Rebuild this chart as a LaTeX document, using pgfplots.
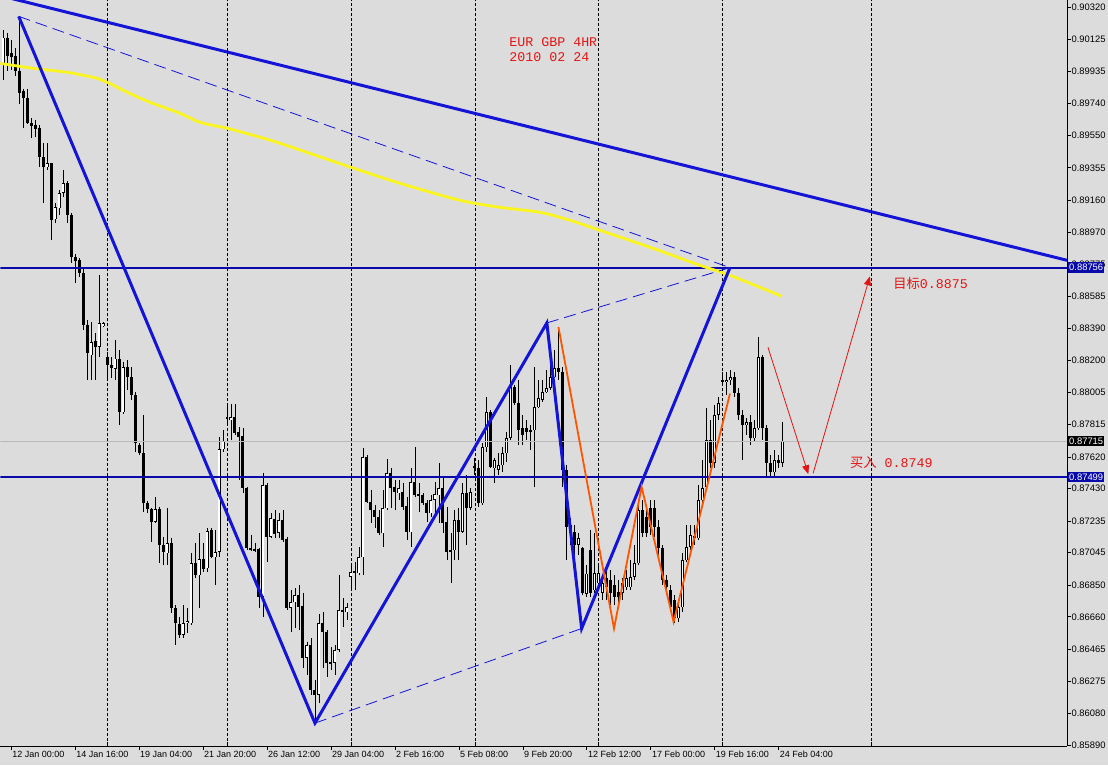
\documentclass[border=0pt]{standalone}
\usepackage{fontspec}
\setmainfont{Liberation Sans}
\newfontfamily\monof{Liberation Mono}
\newfontfamily\cjk{Noto Sans CJK SC}
\usepackage{pgfplots}
\usepackage{pgfplotstable}
\pgfplotsset{compat=1.18}
\usetikzlibrary{arrows.meta}
\definecolor{bg}{RGB}{220,220,220}
\definecolor{zig}{RGB}{20,20,215}
\definecolor{hline}{RGB}{10,10,170}
\definecolor{maY}{RGB}{250,245,30}
\definecolor{org}{RGB}{255,85,0}
\definecolor{ann}{RGB}{228,20,20}

\pgfplotstableread{
k o h l c
0 0.89982 0.90180 0.89880 0.90138
1 0.90138 0.90168 0.89940 0.90030
2 0.90042 0.90120 0.89940 0.90018
3 0.90030 0.90078 0.89910 0.89940
4 0.89940 0.90264 0.89742 0.89808
5 0.89820 0.89832 0.89598 0.89778
6 0.89778 0.89832 0.89622 0.89628
7 0.89628 0.89658 0.89538 0.89610
8 0.89616 0.89640 0.89538 0.89592
9 0.89592 0.89610 0.89358 0.89418
10 0.89418 0.89502 0.89142 0.89358
11 0.89358 0.89508 0.89340 0.89382
12 0.89382 0.89382 0.88920 0.89040
13 0.89046 0.89142 0.89022 0.89118
14 0.89112 0.89220 0.89070 0.89202
15 0.89202 0.89340 0.89178 0.89262
16 0.89262 0.89274 0.89022 0.89070
17 0.89070 0.89082 0.88782 0.88818
18 0.88824 0.88836 0.88662 0.88800
19 0.88800 0.88812 0.88698 0.88722
20 0.88722 0.88758 0.88380 0.88410
21 0.88410 0.88440 0.88080 0.88242
22 0.88230 0.88428 0.88080 0.88308
23 0.88314 0.88362 0.88080 0.88278
24 0.88278 0.88710 0.88218 0.88422
25 0.88404 0.88428 0.88398 0.88422
26 0.88218 0.88248 0.88092 0.88170
27 0.88170 0.88218 0.88092 0.88152
28 0.88152 0.88320 0.88080 0.88212
29 0.88206 0.88260 0.87810 0.87888
30 0.87888 0.88188 0.87876 0.88158
31 0.88158 0.88200 0.88020 0.88098
32 0.88098 0.88158 0.87960 0.87990
33 0.87990 0.88008 0.87648 0.87702
34 0.87690 0.87702 0.87630 0.87642
35 0.87642 0.87870 0.87288 0.87342
36 0.87342 0.87354 0.87282 0.87306
37 0.87306 0.87312 0.87108 0.87228
38 0.87228 0.87378 0.87222 0.87306
39 0.87306 0.87318 0.86982 0.87090
40 0.87090 0.87138 0.86970 0.87048
41 0.87042 0.87312 0.86970 0.87102
42 0.87102 0.87132 0.86682 0.86712
43 0.86712 0.86730 0.86490 0.86622
44 0.86616 0.86658 0.86532 0.86550
45 0.86550 0.86730 0.86532 0.86622
46 0.86622 0.86712 0.86562 0.86634
47 0.86622 0.87042 0.86610 0.86982
48 0.86982 0.87102 0.86892 0.86910
49 0.86910 0.87162 0.86712 0.87006
50 0.87006 0.87102 0.86928 0.86946
51 0.86952 0.87192 0.86928 0.87174
52 0.87180 0.87192 0.87012 0.87018
53 0.87018 0.87180 0.86850 0.87048
54 0.87048 0.87738 0.87018 0.87666
55 0.87666 0.87780 0.87648 0.87714
56 0.87858 0.87930 0.87822 0.87846
57 0.87840 0.87936 0.87720 0.87858
58 0.87858 0.87936 0.87750 0.87762
59 0.87768 0.87798 0.87480 0.87738
60 0.87744 0.87792 0.87402 0.87432
61 0.87432 0.87438 0.87060 0.87072
62 0.87072 0.87150 0.87054 0.87060
63 0.87066 0.87102 0.87048 0.87054
64 0.87066 0.87072 0.86712 0.86778
65 0.86778 0.87522 0.86658 0.87450
66 0.87450 0.87462 0.86988 0.87138
67 0.87138 0.87282 0.87132 0.87252
68 0.87246 0.87300 0.87132 0.87156
69 0.87162 0.87282 0.87132 0.87240
70 0.87240 0.87300 0.87108 0.87120
71 0.87126 0.87138 0.86700 0.86712
72 0.86712 0.86820 0.86568 0.86748
73 0.86748 0.86832 0.86592 0.86790
74 0.86790 0.86850 0.86580 0.86718
75 0.86724 0.86802 0.86352 0.86412
76 0.86412 0.86508 0.86310 0.86490
77 0.86490 0.86532 0.86190 0.86220
78 0.86220 0.86280 0.86022 0.86190
79 0.86190 0.86682 0.86142 0.86622
80 0.86622 0.86688 0.86352 0.86568
81 0.86568 0.86580 0.86298 0.86382
82 0.86388 0.86478 0.86340 0.86382
83 0.86382 0.86490 0.86310 0.86460
84 0.86460 0.86910 0.86448 0.86700
85 0.86700 0.86772 0.86598 0.86688
86 0.86688 0.86742 0.86640 0.86718
87 0.86898 0.86982 0.86820 0.86928
88 0.86934 0.86988 0.86820 0.86928
89 0.86922 0.87078 0.86910 0.87018
90 0.87018 0.87672 0.86910 0.87618
91 0.87618 0.87630 0.87342 0.87348
92 0.87348 0.87420 0.87222 0.87300
93 0.87300 0.87330 0.87192 0.87258
94 0.87258 0.87300 0.87150 0.87162
95 0.87162 0.87420 0.87078 0.87312
96 0.87312 0.87606 0.87300 0.87522
97 0.87522 0.87552 0.87312 0.87432
98 0.87438 0.87480 0.87300 0.87408
99 0.87402 0.87480 0.87360 0.87432
100 0.87408 0.87462 0.87300 0.87318
101 0.87324 0.87378 0.87120 0.87168
102 0.87168 0.87552 0.87078 0.87468
103 0.87468 0.87678 0.87378 0.87390
104 0.87396 0.87462 0.87288 0.87384
105 0.87390 0.87402 0.87330 0.87342
106 0.87342 0.87360 0.87228 0.87282
107 0.87282 0.87390 0.87258 0.87360
108 0.87360 0.87468 0.87258 0.87396
109 0.87390 0.87582 0.87222 0.87432
110 0.87432 0.87498 0.87162 0.87222
111 0.87228 0.87318 0.87000 0.87048
112 0.87060 0.87162 0.86862 0.87054
113 0.87060 0.87300 0.87000 0.87240
114 0.87240 0.87312 0.87000 0.87168
115 0.87168 0.87462 0.87162 0.87402
116 0.87402 0.87510 0.87090 0.87312
117 0.87312 0.87432 0.87300 0.87408
118 0.87564 0.87612 0.87510 0.87552
119 0.87552 0.87600 0.87318 0.87342
120 0.87342 0.87702 0.87330 0.87678
121 0.87678 0.87978 0.87648 0.87888
122 0.87888 0.87900 0.87552 0.87558
123 0.87552 0.87612 0.87462 0.87600
124 0.87540 0.87642 0.87510 0.87570
125 0.87570 0.87678 0.87528 0.87642
126 0.87642 0.87768 0.87588 0.87732
127 0.87732 0.88170 0.87720 0.88038
128 0.88038 0.88050 0.87930 0.87942
129 0.87942 0.88080 0.87690 0.87780
130 0.87792 0.87870 0.87690 0.87750
131 0.87792 0.87840 0.87720 0.87768
132 0.87780 0.87810 0.87660 0.87768
133 0.87780 0.88158 0.87438 0.87918
134 0.87918 0.88080 0.87912 0.87972
135 0.87960 0.88080 0.87948 0.88008
136 0.88008 0.88140 0.88002 0.88032
137 0.88032 0.88182 0.88020 0.88098
138 0.88098 0.88260 0.88092 0.88152
139 0.88152 0.88398 0.88080 0.88128
140 0.88128 0.88158 0.87438 0.87540
141 0.87540 0.87570 0.87000 0.87198
142 0.87162 0.87252 0.87090 0.87210
143 0.87168 0.87210 0.87000 0.87090
144 0.87090 0.87162 0.87030 0.87132
145 0.87072 0.87078 0.86790 0.86802
146 0.86802 0.86970 0.86778 0.86922
147 0.87060 0.87180 0.86778 0.86802
148 0.86820 0.87162 0.86802 0.86922
149 0.86862 0.86970 0.86820 0.86922
150 0.86802 0.86892 0.86760 0.86862
151 0.86892 0.86970 0.86760 0.86838
152 0.86880 0.86940 0.86730 0.86802
153 0.86850 0.86910 0.86730 0.86778
154 0.86808 0.86880 0.86742 0.86778
155 0.86802 0.86892 0.86760 0.86862
156 0.86838 0.86940 0.86820 0.86892
157 0.86838 0.87000 0.86820 0.86898
158 0.86898 0.87090 0.86880 0.86982
159 0.86982 0.87330 0.86970 0.87300
160 0.87300 0.87360 0.87138 0.87162
161 0.87258 0.87300 0.87138 0.87162
162 0.87312 0.87360 0.87150 0.87198
163 0.87312 0.87360 0.87138 0.87198
164 0.87198 0.87240 0.87030 0.87072
165 0.87072 0.87090 0.86850 0.86880
166 0.86880 0.86910 0.86790 0.86838
167 0.86820 0.86850 0.86688 0.86718
168 0.86760 0.86790 0.86622 0.86652
169 0.86652 0.86760 0.86628 0.86718
170 0.86718 0.87042 0.86688 0.87000
171 0.87000 0.87210 0.86988 0.87078
172 0.87078 0.87210 0.87060 0.87150
173 0.87144 0.87210 0.87090 0.87132
174 0.87132 0.87450 0.87120 0.87360
175 0.87360 0.87600 0.87330 0.87432
176 0.87438 0.87912 0.87420 0.87720
177 0.87720 0.87840 0.87552 0.87582
178 0.87582 0.87930 0.87552 0.87870
179 0.87870 0.87978 0.87840 0.87942
180 0.88080 0.88128 0.88050 0.88074
181 0.88068 0.88128 0.87990 0.88080
182 0.88080 0.88140 0.88050 0.88098
183 0.88098 0.88128 0.87978 0.88002
184 0.88002 0.88032 0.87840 0.87870
185 0.87870 0.87900 0.87600 0.87810
186 0.87810 0.87852 0.87750 0.87828
187 0.87828 0.87870 0.87690 0.87732
188 0.87732 0.87840 0.87708 0.87792
189 0.87792 0.88338 0.87780 0.88218
190 0.88218 0.88230 0.87720 0.87792
191 0.87792 0.87810 0.87492 0.87582
192 0.87582 0.87630 0.87492 0.87528
193 0.87528 0.87660 0.87504 0.87600
194 0.87600 0.87630 0.87552 0.87582
195 0.87582 0.87828 0.87558 0.87715
}\candles

\begin{document}
\begin{tikzpicture}
\fill[bg] (0,0) rectangle (1108pt,765pt);
\begin{axis}[
  at={(0pt,19pt)}, anchor=south west,
  scale only axis, width=1067pt, height=746pt,
  xmin=-0.675, xmax=266.1, ymin=0.85884, ymax=0.9036,
  clip mode=individual,
  axis x line*=bottom, axis y line*=right,
  axis line style={black, line width=0.8pt},
  tick align=outside, major tick length=3.5pt,
  every tick/.style={black, line width=0.7pt},
  scaled ticks=false,
  xtick={2,18,34,50,66,82,98,114,130,146,162,178,194},
  xticklabels={12 Jan 00:00,14 Jan 16:00,19 Jan 04:00,21 Jan 20:00,26 Jan 12:00,29 Jan 04:00,2 Feb 16:00,5 Feb 08:00,9 Feb 20:00,12 Feb 12:00,17 Feb 00:00,19 Feb 16:00,24 Feb 04:00},
  xticklabel style={anchor=north west, font=\fontsize{9}{10}\selectfont, inner sep=1pt, xshift=0pt},
  extra x ticks={26,56,87,118,149,180,217.1},
  extra x tick labels={},
  extra x tick style={grid=major, tick align=inside, major tick length=4pt,
     major grid style={black, line width=0.7pt, dash pattern=on 3pt off 2pt}},
  ytick={0.90320,0.90125,0.89935,0.89740,0.89550,0.89355,0.89160,0.88970,0.88775,0.88585,0.88390,0.88200,0.88005,0.87815,0.87620,0.87430,0.87235,0.87045,0.86850,0.86660,0.86465,0.86275,0.86080,0.85890},
  yticklabels={0.90320,0.90125,0.89935,0.89740,0.89550,0.89355,0.89160,0.88970,0.88775,0.88585,0.88390,0.88200,0.88005,0.87815,0.87620,0.87430,0.87235,0.87045,0.86850,0.86660,0.86465,0.86275,0.86080,0.85890},
  yticklabel style={anchor=west, font=\fontsize{9.4}{10}\selectfont, inner sep=0.8pt},
]
% wicks
\addplot[draw=none, mark=none, forget plot, error bars/.cd, y dir=both, y explicit, error mark=none,
  error bar style={draw=black, line width=0.8pt}]
  table[x=k, y expr=(\thisrow{h}+\thisrow{l})/2, y error expr=(\thisrow{h}-\thisrow{l})/2] {\candles};
% bodies (outline / black fill)
\addplot[draw=none, mark=none, forget plot, error bars/.cd, y dir=both, y explicit, error mark=none,
  error bar style={draw=black, line width=3pt}]
  table[x=k, y expr=(\thisrow{o}+\thisrow{c})/2, y error expr={max(abs(\thisrow{o}-\thisrow{c})/2,0.00004)}] {\candles};
% bullish interiors
\addplot[draw=none, mark=none, forget plot, error bars/.cd, y dir=both, y explicit, error mark=none,
  error bar style={draw=white, line width=1.2pt}]
  table[x=k, y expr=(\thisrow{o}+\thisrow{c})/2, y error expr={(\thisrow{c}>\thisrow{o}) ? max((\thisrow{c}-\thisrow{o})/2-0.00005,0) : 0}] {\candles};

% horizontal levels
\addplot[gray!55, line width=0.6pt] coordinates {(-0.675,0.87715) (266.1,0.87715)};
\addplot[hline, line width=2pt] coordinates {(-0.675,0.88756) (266.1,0.88756)};
\addplot[hline, line width=2pt] coordinates {(-0.675,0.87499) (266.1,0.87499)};

% moving average
\addplot[maY, line width=2.8pt, smooth] coordinates {
(-0.675,0.89982) (7.6,0.89952) (16.1,0.89928) (23.6,0.89892) (26.1,0.89868) (31.1,0.89808)
(36.8,0.89748) (44.3,0.89682) (49.3,0.89628) (56.1,0.89592) (62.6,0.89550) (69.3,0.89502)
(86.8,0.89360) (99.3,0.89262) (114.3,0.89160) (124.3,0.89118) (134.3,0.89088) (141.8,0.89040)
(149.3,0.88980) (161.8,0.88878) (174.3,0.88770) (181.8,0.88710) (194.8,0.88584)};

% top trend line
\addplot[zig, line width=3pt] coordinates {(-0.675,0.90388) (266.1,0.88800)};
% dashed lines
\addplot[zig, line width=0.8pt, dash pattern=on 12pt off 6pt] coordinates {(3.9,0.90264) (181.8,0.88756)};
\addplot[zig, line width=0.8pt, dash pattern=on 12pt off 6pt] coordinates {(136,0.88424) (181.8,0.88756)};
\addplot[zig, line width=0.8pt, dash pattern=on 12pt off 6pt] coordinates {(78,0.86022) (144.7,0.86590)};
% zigzag
\addplot[zig, line width=3pt, line join=miter] coordinates {(3.9,0.90264) (78,0.86022) (136,0.88424) (144.7,0.86590) (181.8,0.88756)};
% orange zigzag
\addplot[org, line width=1.8pt] coordinates {(138.9,0.88400) (152.8,0.86590) (159.7,0.87440) (167.7,0.86630) (181.8,0.88000)};
% red arrows
\addplot[ann, line width=0.8pt, -{Triangle[length=9pt,width=7pt]}] coordinates {(191.3,0.88278) (201.4,0.87516)};
\addplot[ann, line width=0.8pt, -{Triangle[length=9pt,width=7pt]}] coordinates {(202.6,0.87522) (216.8,0.88704)};

% annotations
\node[anchor=north west, text=ann, align=left, inner sep=0pt, font=\monof\fontsize{13.3}{15}\selectfont] at (axis cs:126.6,0.90138) {EUR GBP 4HR\\2010 02 24};
\node[anchor=west, text=ann, inner sep=0pt, font=\fontsize{13.3}{15}\selectfont] at (axis cs:222.6,0.88662) {{\cjk 目标}{\monof 0.8875}};
\node[anchor=west, text=ann, inner sep=0pt, font=\fontsize{13.3}{15}\selectfont] at (axis cs:211.8,0.87588) {{\cjk 买入}{\monof\ 0.8749}};

% price boxes
\node[anchor=west, fill=hline, text=white, inner xsep=0.8pt, inner ysep=2pt, font=\fontsize{9.4}{10}\selectfont, xshift=1.2pt] at (axis cs:266.1,0.88756) {0.88756};
\node[anchor=west, fill=black, text=white, inner xsep=0.8pt, inner ysep=2pt, font=\fontsize{9.4}{10}\selectfont, xshift=1.2pt] at (axis cs:266.1,0.87715) {0.87715};
\node[anchor=west, fill=hline, text=white, inner xsep=0.8pt, inner ysep=2pt, font=\fontsize{9.4}{10}\selectfont, xshift=1.2pt] at (axis cs:266.1,0.87499) {0.87499};
\end{axis}
\end{tikzpicture}
\end{document}
